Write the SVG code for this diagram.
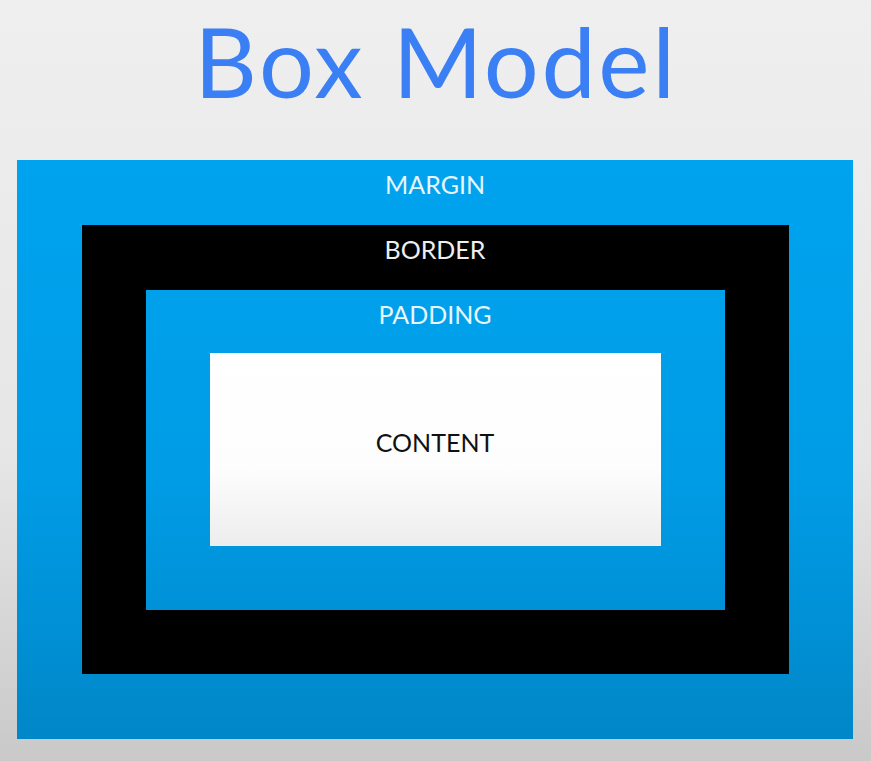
<svg xmlns="http://www.w3.org/2000/svg" width="871" height="761" viewBox="0 0 871 761">
<style>
.lbl{font-family:Lato,"Open Sans","Liberation Sans",sans-serif;font-size:25px;text-anchor:middle;fill:#e8f6fd}
.title{font-family:Lato,"Open Sans","Liberation Sans",sans-serif;font-size:97px;font-weight:400;letter-spacing:2.6px;text-anchor:middle;fill:#3b7ff5}
</style>
<defs>
<linearGradient id="bg" x1="0" y1="0" x2="0" y2="1">
<stop offset="0" stop-color="#efefef"/><stop offset="0.6" stop-color="#e6e6e6"/><stop offset="1" stop-color="#c9c9c9"/>
</linearGradient>
<linearGradient id="blue" gradientUnits="userSpaceOnUse" x1="0" y1="160" x2="0" y2="740">
<stop offset="0" stop-color="#00a3ef"/><stop offset="0.55" stop-color="#009ce6"/><stop offset="1" stop-color="#0087c8"/>
</linearGradient>
<linearGradient id="white" x1="0" y1="0" x2="0" y2="1">
<stop offset="0" stop-color="#ffffff"/><stop offset="0.6" stop-color="#fdfdfd"/><stop offset="1" stop-color="#ededed"/>
</linearGradient>
</defs>
<rect width="871" height="761" fill="url(#bg)"/>
<text class="title" x="436" y="98">Box Model</text>
<g id="margin"><rect x="17" y="160" width="836" height="579" fill="url(#blue)"/><text class="lbl" x="435" y="194">MARGIN</text></g>
<g id="border"><rect x="82" y="225" width="707" height="449" fill="#000"/><text class="lbl" x="435" y="259" style="fill:#eeeeee">BORDER</text></g>
<g id="padding"><rect x="146" y="290" width="579" height="320" fill="url(#blue)"/><text class="lbl" x="435" y="324">PADDING</text></g>
<g id="content"><rect x="210" y="353" width="451" height="193" fill="url(#white)"/><text class="lbl" x="435" y="452" style="fill:#111">CONTENT</text></g>
</svg>
